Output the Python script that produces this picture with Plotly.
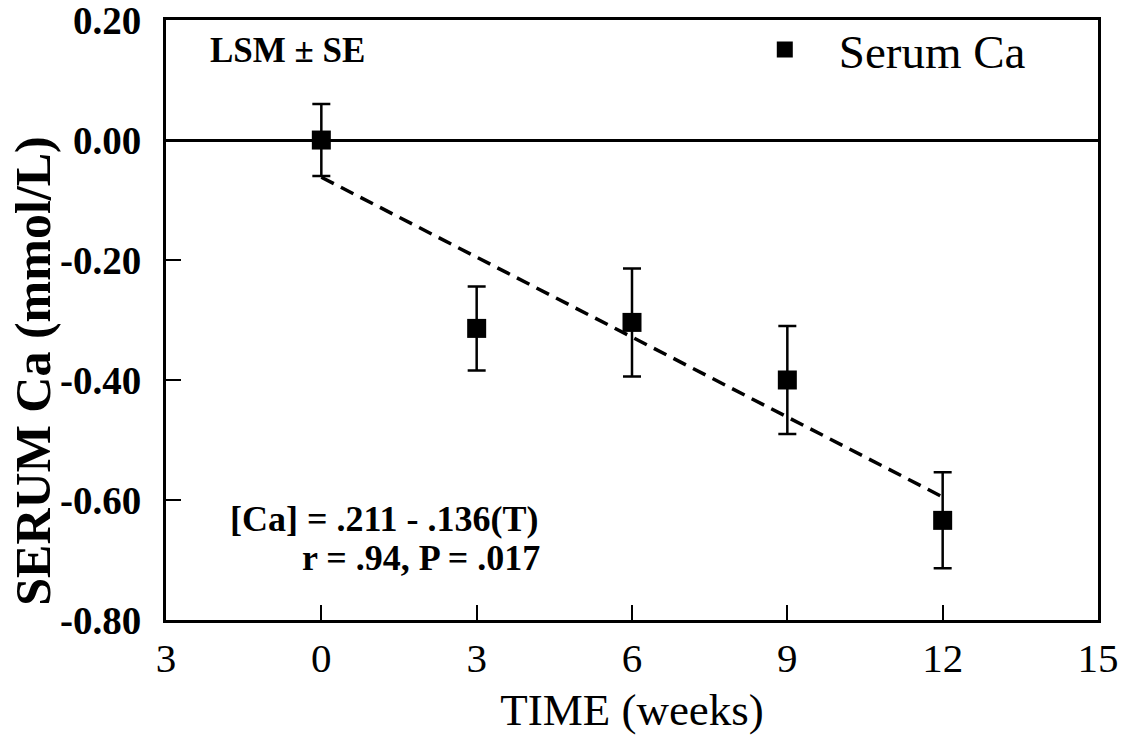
import plotly.graph_objects as go

weeks = [0, 3, 6, 9, 12]
serum_ca = [0.0, -0.314, -0.304, -0.400, -0.634]
se = [0.060, 0.070, 0.090, 0.090, 0.080]

fit_x = [0, 12]
fit_y = [-0.062, -0.595]

x_tickvals = [-3, 0, 3, 6, 9, 12, 15]
x_ticktext = ["3", "0", "3", "6", "9", "12", "15"]
y_tickvals = [0.2, 0.0, -0.2, -0.4, -0.6, -0.8]
y_ticktext = ["0.20", "0.00", "-0.20", "-0.40", "-0.60", "-0.80"]

SERIF = "Liberation Serif, Times New Roman, serif"

fig = go.Figure()
fig.add_trace(go.Scatter(
    x=fit_x, y=fit_y, mode="lines",
    line=dict(color="black", width=3.5, dash="14px,8px"),
    showlegend=False, hoverinfo="skip",
))
fig.add_trace(go.Scatter(
    x=weeks, y=serum_ca, mode="markers", name="Serum Ca",
    marker=dict(symbol="square", size=19, color="black"),
    error_y=dict(type="data", array=se, visible=True, color="black", thickness=2.5, width=9),
))

fig.update_layout(
    width=1135, height=735,
    margin=dict(l=166, r=37, t=20, b=115, autoexpand=False),
    paper_bgcolor="white", plot_bgcolor="white",
    font=dict(family=SERIF, color="black"),
    showlegend=True,
    legend=dict(
        x=0.606, y=0.95, xanchor="left", yanchor="middle",
        bgcolor="rgba(0,0,0,0)", font=dict(size=47, family=SERIF),
        itemsizing="trace", itemwidth=98,
    ),
    xaxis=dict(
        range=[-3, 15], tickvals=x_tickvals, ticktext=x_ticktext,
        ticks="inside", ticklen=15, tickwidth=2, tickcolor="black",
        showline=True, linewidth=3, linecolor="black", mirror=True,
        showgrid=False, zeroline=False, automargin=False,
        tickfont=dict(size=41, family=SERIF),
        title=dict(text="TIME (weeks)", font=dict(size=45, family=SERIF), standoff=14),
    ),
    yaxis=dict(
        range=[-0.8001, 0.2001], tickvals=y_tickvals, ticktext=y_ticktext,
        ticks="inside", ticklen=15, tickwidth=2, tickcolor="black",
        showline=True, linewidth=3, linecolor="black", mirror=True,
        showgrid=False, zeroline=True, zerolinecolor="black", zerolinewidth=3,
        automargin=False,
        tickfont=dict(size=39, family=SERIF, weight="bold"),
        ticklabelstandoff=14, ticklabeloverflow="allow",
    ),
    annotations=[
        dict(text="SERUM Ca (mmol/L)", x=-0.143, y=0.415, xref="paper", yref="paper",
             xanchor="center", yanchor="middle", textangle=-90, showarrow=False,
             font=dict(size=50, family=SERIF, weight="bold")),
        dict(text="LSM ± SE", x=0.045, y=0.95, xref="paper", yref="paper",
             xanchor="left", yanchor="middle", showarrow=False,
             font=dict(size=35, family=SERIF, weight="bold")),
        dict(text="[Ca] = .211 - .136(T)", x=0.401, y=0.169,
             xref="paper", yref="paper", xanchor="right", yanchor="middle",
             showarrow=False, font=dict(size=36, family=SERIF, weight="bold")),
        dict(text="r = .94, P = .017", x=0.403, y=0.104,
             xref="paper", yref="paper", xanchor="right", yanchor="middle",
             showarrow=False, font=dict(size=36, family=SERIF, weight="bold")),
    ],
)

fig.write_html("out.html")
